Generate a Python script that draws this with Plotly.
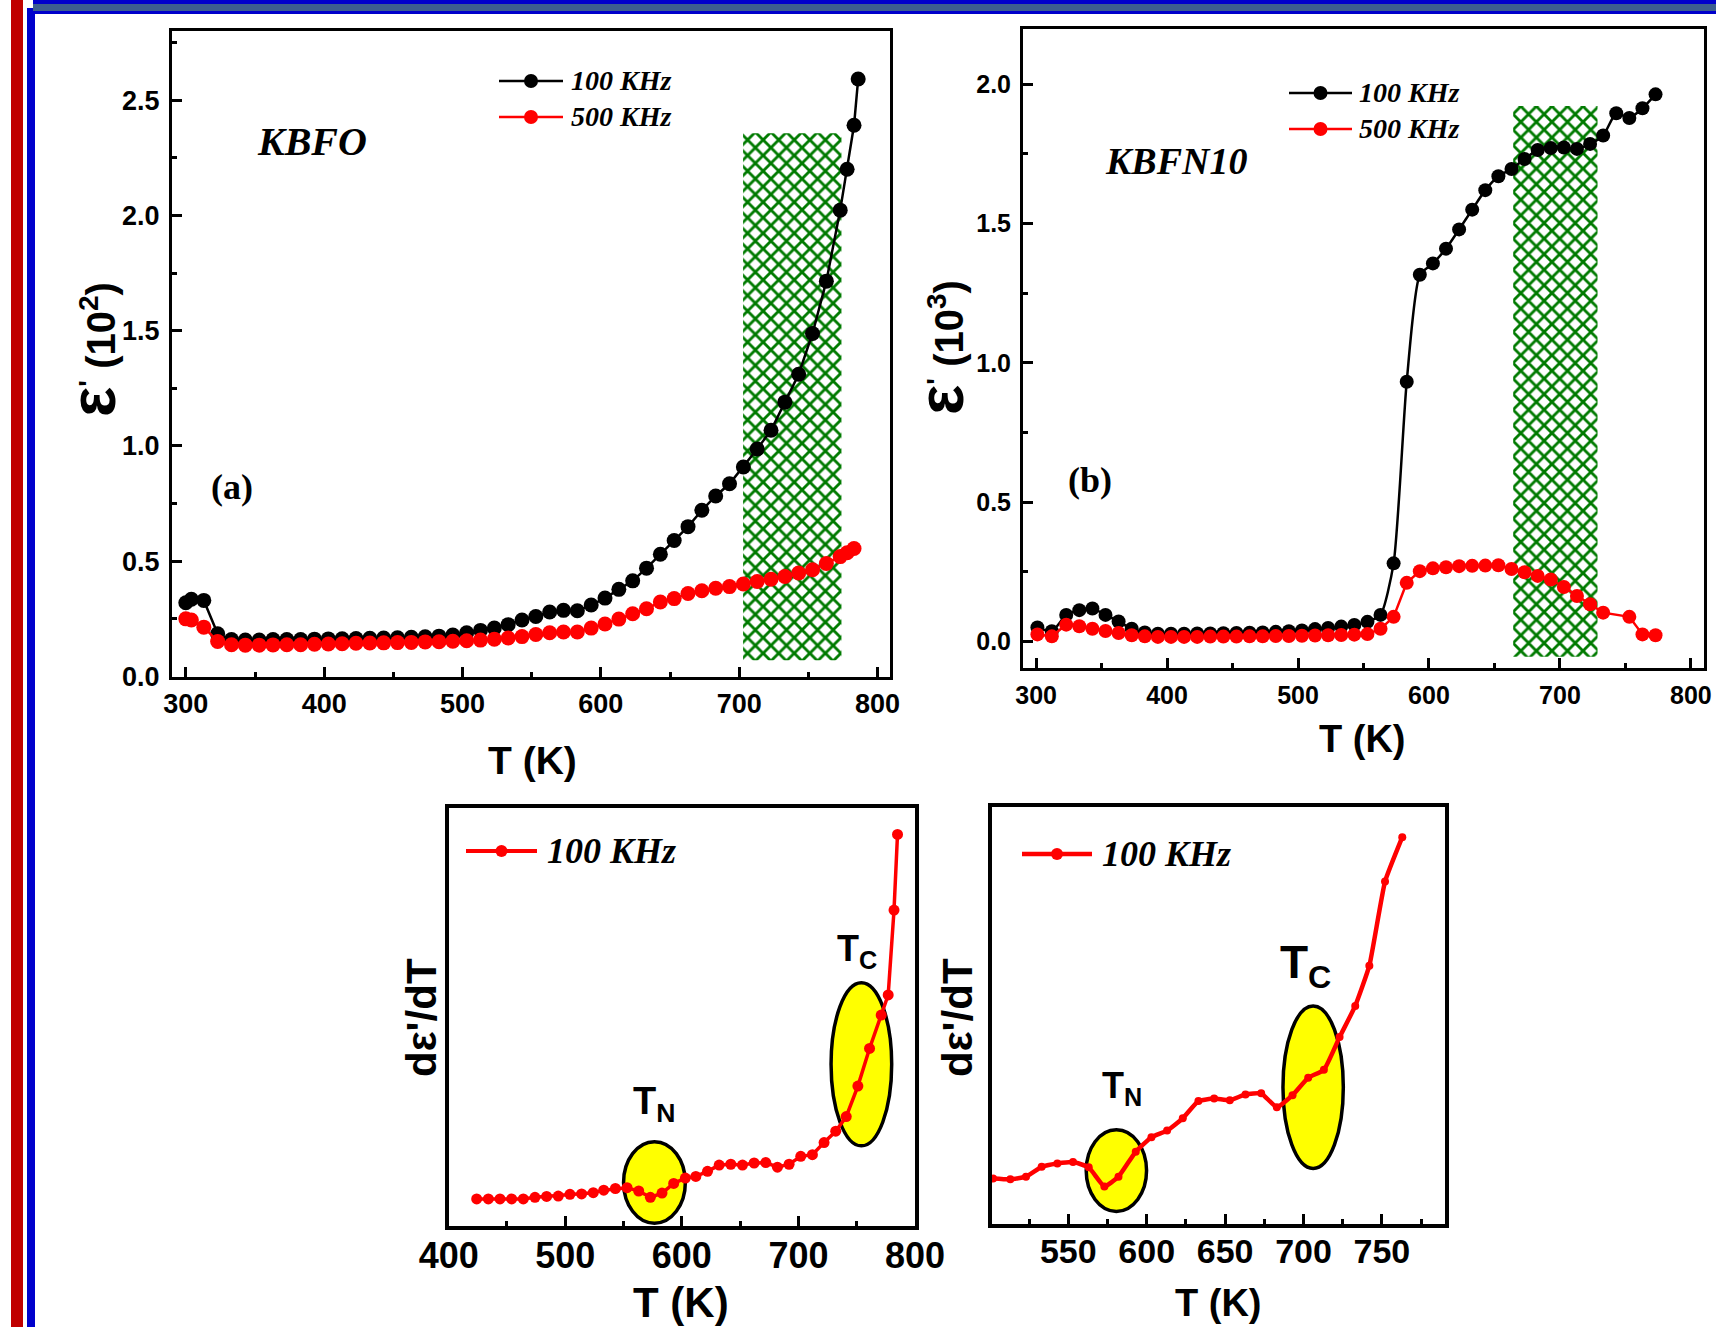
import plotly.graph_objects as go

W, H = 1716, 1327
SANS = "Liberation Sans, Arial, Helvetica, sans-serif"
SERIF = "Liberation Serif, Times New Roman, serif"

# ---------------- data ----------------
# (a) KBFO, epsilon' (10^2)
Ta_100 = [300, 304, 313, 323, 333, 343, 353, 363, 373, 383, 393, 403, 413, 423, 433, 443, 453, 463,
          473, 483, 493, 503, 513, 523, 533, 543, 553, 563, 573, 583, 593, 603, 613, 623, 633, 643,
          653, 663, 673, 683, 693, 703, 713, 723, 733, 743, 753, 763, 773, 778, 783, 786]
eps_a_100 = [0.32, 0.335, 0.33, 0.185, 0.16, 0.158, 0.158, 0.16, 0.16, 0.16, 0.162, 0.163, 0.164,
             0.165, 0.166, 0.167, 0.168, 0.17, 0.172, 0.175, 0.18, 0.19, 0.2, 0.21, 0.225, 0.245,
             0.26, 0.28, 0.287, 0.285, 0.31, 0.34, 0.378, 0.415, 0.47, 0.53, 0.59, 0.65, 0.721,
             0.783, 0.836, 0.909, 0.987, 1.068, 1.19, 1.311, 1.488, 1.715, 2.023, 2.20, 2.391, 2.592]
Ta_500 = [300, 304, 313, 323, 333, 343, 353, 363, 373, 383, 393, 403, 413, 423, 433, 443, 453, 463,
          473, 483, 493, 503, 513, 523, 533, 543, 553, 563, 573, 583, 593, 603, 613, 623, 633, 643,
          653, 663, 673, 683, 693, 703, 713, 723, 733, 743, 753, 763, 773, 778, 783]
eps_a_500 = [0.25, 0.245, 0.214, 0.152, 0.138, 0.136, 0.136, 0.137, 0.138, 0.138, 0.14, 0.141, 0.142,
             0.144, 0.145, 0.146, 0.147, 0.148, 0.15, 0.151, 0.153, 0.155, 0.158, 0.162, 0.167, 0.173,
             0.182, 0.19, 0.193, 0.193, 0.21, 0.228, 0.249, 0.272, 0.294, 0.323, 0.338, 0.36, 0.372,
             0.383, 0.39, 0.401, 0.412, 0.422, 0.434, 0.449, 0.463, 0.49, 0.52, 0.537, 0.555]

# (b) KBFN10, epsilon' (10^3)
Tb_100 = [301, 312, 323, 333, 343, 353, 363, 373, 383, 393, 403, 413, 423, 433, 443, 453, 463, 473,
          483, 493, 503, 513, 523, 533, 543, 553, 563, 573, 583, 593, 603, 613, 623, 633, 643, 653,
          663, 673, 683, 693, 703, 713, 723, 733, 743, 753, 763, 773]
eps_b_100 = [0.05, 0.036, 0.095, 0.112, 0.118, 0.095, 0.071, 0.045, 0.032, 0.027, 0.027, 0.027, 0.028,
             0.028, 0.029, 0.03, 0.031, 0.032, 0.034, 0.036, 0.039, 0.044, 0.048, 0.053, 0.059, 0.07,
             0.095, 0.28, 0.932, 1.316, 1.357, 1.41, 1.479, 1.55, 1.62, 1.67, 1.696, 1.732, 1.764,
             1.771, 1.773, 1.768, 1.786, 1.816, 1.896, 1.879, 1.914, 1.964]
Tb_500 = [301, 312, 323, 333, 343, 353, 363, 373, 383, 393, 403, 413, 423, 433, 443, 453, 463, 473,
          483, 493, 503, 513, 523, 533, 543, 553, 563, 573, 583, 593, 603, 613, 623, 633, 643, 653,
          663, 673, 683, 693, 703, 713, 723, 733, 753, 763, 773]
eps_b_500 = [0.025, 0.018, 0.06, 0.054, 0.045, 0.037, 0.03, 0.022, 0.018, 0.016, 0.016, 0.016, 0.016,
             0.017, 0.017, 0.017, 0.018, 0.018, 0.019, 0.019, 0.02, 0.021, 0.022, 0.023, 0.024, 0.026,
             0.045, 0.088, 0.21, 0.252, 0.262, 0.266, 0.27, 0.271, 0.272, 0.273, 0.26, 0.248, 0.235,
             0.222, 0.195, 0.163, 0.133, 0.103, 0.088, 0.025, 0.022]

# (c) d eps'/dT, KBFO, 100 KHz (arb. units)
Tc = [424, 434, 444, 454, 464, 474, 484, 494, 504, 514, 524, 533, 543, 553, 563, 573, 583, 593, 603,
      612, 622, 632, 642, 652, 662, 672, 682, 692, 702, 712, 722, 732, 741, 751, 761, 771, 777, 782, 785]
deriv_c = [6.4, 6.4, 6.4, 6.4, 6.4, 6.8, 7.0, 7.1, 7.5, 7.6, 7.9, 8.5, 8.9, 9.1, 8.3, 6.8, 7.8, 10.1,
           11.4, 11.8, 13.0, 14.5, 14.7, 14.5, 15.0, 15.1, 14.0, 14.7, 16.6, 17.0, 19.9, 22.6, 26.1,
           33.4, 42.4, 50.4, 55.2, 75.5, 93.6]

# (d) d eps'/dT, KBFN10, 100 KHz (arb. units)
Td = [502, 513, 523, 533, 543, 553, 563, 573, 582, 593, 603, 613, 623, 633, 643, 653, 663, 673, 683,
      693, 703, 713, 723, 733, 742, 752, 763]
deriv_d = [10.8, 10.6, 11.25, 13.6, 14.4, 14.75, 13.5, 8.9, 11.25, 17.25, 20.7, 22.3, 25.25, 29.4,
           30.0, 29.6, 31.0, 31.25, 27.9, 30.8, 35.0, 36.9, 44.75, 52.25, 61.9, 82.1, 92.75]

# highlighted regions (data coordinates)
HATCH_A = (702.8, 773.9, 0.071, 2.356)
HATCH_B = (664.3, 728.7, -0.055, 1.922)
ELL_C = {"N": (550, 603, 0.6, 20.1), "C": (728, 780, 19.1, 58.1)}
ELL_D = {"N": (561.4, 599.9, 2.9, 22.5), "C": (686.9, 725.4, 13.2, 52.25)}

RED = "#FF0000"
fig = go.Figure()


def hatch(h, xa, ya):
    x0, x1, y0, y1 = h
    fig.add_trace(go.Bar(
        x=[(x0 + x1) / 2], y=[y1 - y0], base=[y0], width=[x1 - x0], xaxis=xa, yaxis=ya,
        marker=dict(color="rgba(0,0,0,0)", line=dict(width=0),
                    pattern=dict(shape="x", fgcolor="#007A00", fgopacity=1, bgcolor="rgba(0,0,0,0)",
                                 size=11, solidity=0.45, fillmode="overlay")),
        showlegend=False, hoverinfo="skip"))


hatch(HATCH_A, "x", "y")
hatch(HATCH_B, "x2", "y2")

fig.add_trace(go.Scatter(x=Ta_100, y=eps_a_100, mode="lines+markers", name="100 KHz",
                         line=dict(color="black", width=2.5), marker=dict(size=15, color="black"),
                         xaxis="x", yaxis="y"))
fig.add_trace(go.Scatter(x=Ta_500, y=eps_a_500, mode="lines+markers", name="500 KHz",
                         line=dict(color=RED, width=2.5), marker=dict(size=15, color=RED),
                         xaxis="x", yaxis="y"))
fig.add_trace(go.Scatter(x=Tb_100, y=eps_b_100, mode="lines+markers", name="100 KHz",
                         line=dict(color="black", width=2.5, shape="spline", smoothing=0.6),
                         marker=dict(size=14, color="black"), xaxis="x2", yaxis="y2"))
fig.add_trace(go.Scatter(x=Tb_500, y=eps_b_500, mode="lines+markers", name="500 KHz",
                         line=dict(color=RED, width=2.5), marker=dict(size=14, color=RED),
                         xaxis="x2", yaxis="y2"))
fig.add_trace(go.Scatter(x=Tc, y=deriv_c, mode="lines+markers", name="100 KHz",
                         line=dict(color=RED, width=3.5), marker=dict(size=11, color=RED),
                         xaxis="x3", yaxis="y3"))
fig.add_trace(go.Scatter(x=Td, y=deriv_d, mode="lines+markers", name="100 KHz",
                         line=dict(color=RED, width=4.5, shape="spline", smoothing=0.4),
                         marker=dict(size=8, color=RED), xaxis="x4", yaxis="y4"))


def px(x):
    return x / W


def py(y):
    return 1 - y / H


def xaxis(dom, rng, dtick, mdtick, fs, anchor, lw=3, standoff=4):
    return dict(domain=[px(dom[0]), px(dom[1])], range=rng, anchor=anchor, showline=True, mirror=True,
                linewidth=lw, linecolor="black", ticks="inside", ticklen=10, tickwidth=2.5,
                tickcolor="black", dtick=dtick, tick0=0, automargin=False,
                minor=dict(dtick=mdtick, ticks="inside", ticklen=5, tickwidth=2.5, tickcolor="black"),
                tickfont=dict(family=SANS, size=fs, color="black", weight="bold"),
                showgrid=False, zeroline=False, ticklabelstandoff=standoff)


def yaxis(dom, rng, fs, anchor, labels=True, lw=3):
    d = dict(domain=[py(dom[1]), py(dom[0])], range=rng, anchor=anchor, showline=True, mirror=True,
             linewidth=lw, linecolor="black", showgrid=False, zeroline=False, automargin=False)
    if labels:
        d.update(ticks="inside", ticklen=10, tickwidth=2.5, tickcolor="black", dtick=0.5, tick0=0,
                 tickformat=".1f",
                 minor=dict(dtick=0.25, ticks="inside", ticklen=5, tickwidth=2.5, tickcolor="black"),
                 tickfont=dict(family=SANS, size=fs, color="black", weight="bold"),
                 ticklabelstandoff=4)
    else:
        d.update(showticklabels=False, ticks="")
    return d


fig.update_layout(
    template="none",
    width=W, height=H, margin=dict(l=0, r=0, t=0, b=0, pad=0, autoexpand=False), autosize=False,
    paper_bgcolor="white", plot_bgcolor="white", showlegend=False,
    xaxis=xaxis((172, 890), [290, 809], 100, 50, 27, "y", standoff=1),
    yaxis=yaxis((31, 676.5), [0, 2.8], 27, "x"),
    xaxis2=xaxis((1023, 1704), [290, 810], 100, 50, 25, "y2", standoff=3),
    yaxis2=yaxis((28.6, 667.8), [-0.095, 2.2], 25, "x2"),
    xaxis3=xaxis((448.7, 915), [400, 800], 100, 50, 36, "y3", lw=4, standoff=-5),
    yaxis3=yaxis((807.7, 1225.7), [0, 100], 36, "x3", labels=False, lw=4),
    xaxis4=xaxis((991.5, 1444.6), [501, 790], 50, 25, 34, "y4", lw=4, standoff=-5),
    yaxis4=yaxis((807, 1223.5), [0, 100], 34, "x4", labels=False, lw=4),
)

shapes = []
annots = []


# page decorations
def rect(x0, y0, x1, y1, color):
    shapes.append(dict(type="rect", xref="paper", yref="paper", x0=px(x0), x1=px(x1), y0=py(y1),
                       y1=py(y0), fillcolor=color, line=dict(width=0), layer="above"))


rect(11, 0, 23, H, "#C00000")
rect(27, 8, 35, H, "#0000CC")
rect(33, 0, W, 4, "#0000CC")
rect(33, 4, W, 11, "#3D5F8F")
rect(27, 11, W, 14, "#0000CC")


# manual legends (pixel positions)
def legend_entry(x0, x1, y, color, r, lw, tx, text, size):
    shapes.append(dict(type="line", xref="paper", yref="paper", x0=px(x0), x1=px(x1), y0=py(y), y1=py(y),
                       line=dict(color=color, width=lw), layer="above"))
    cx = (x0 + x1) / 2
    shapes.append(dict(type="circle", xref="paper", yref="paper", x0=px(cx - r), x1=px(cx + r),
                       y0=py(y + r), y1=py(y - r), fillcolor=color, line=dict(color=color, width=0),
                       layer="above"))
    annots.append(dict(xref="paper", yref="paper", x=px(tx), y=py(y), xanchor="left", yanchor="middle",
                       text=text, showarrow=False,
                       font=dict(family=SERIF, size=size, color="black", weight="bold", style="italic")))


legend_entry(499, 563, 81, "black", 7, 2.5, 569, "100 KHz", 28)
legend_entry(499, 563, 117, RED, 7, 2.5, 569, "500 KHz", 28)
legend_entry(1289, 1352, 93, "black", 7, 2.5, 1357, "100 KHz", 28)
legend_entry(1289, 1352, 129, RED, 7, 2.5, 1357, "500 KHz", 28)
legend_entry(466, 537, 851, RED, 6, 4, 545, "100 KHz", 36)
legend_entry(1022, 1092, 854, RED, 6, 4.5, 1100, "100 KHz", 36)


def text(x, y, t, size, family=SANS, style="normal", angle=0):
    annots.append(dict(xref="paper", yref="paper", x=px(x), y=py(y), xanchor="center", yanchor="middle",
                       text=t, showarrow=False, textangle=angle,
                       font=dict(family=family, size=size, color="black", weight="bold", style=style)))


text(312, 142, "KBFO", 40, SERIF, "italic")
text(1176, 161, "KBFN10", 38, SERIF, "italic")
text(232, 487, "(a)", 36, SERIF)
text(1090, 480, "(b)", 36, SERIF)

text(532, 760, "T (K)", 39)
text(1362, 739, "T (K)", 38)
text(681, 1302, "T (K)", 42)
text(1218, 1303, "T (K)", 38)

EPS = "<span style='font-size:64px'>ε</span><sup>'</sup> (10<sup>%s</sup>)"
text(93, 350, EPS % "2", 40, angle=-90)
text(941, 348, EPS % "3", 40, angle=-90)
text(421, 1018, "dε'/dT", 42, angle=-90)
text(957, 1018, "dε'/dT", 42, angle=-90)


# ellipses and transition labels
def ellipse(e, xr, yr):
    x0, x1, y0, y1 = e
    shapes.append(dict(type="circle", xref=xr, yref=yr, x0=x0, x1=x1, y0=y0, y1=y1,
                       fillcolor="#FFFF00", line=dict(color="black", width=3.5), layer="below"))


for e in ELL_C.values():
    ellipse(e, "x3", "y3")
for e in ELL_D.values():
    ellipse(e, "x4", "y4")


def dlabel(x, y, t, size, xr, yr):
    annots.append(dict(xref=xr, yref=yr, x=x, y=y, xanchor="center", yanchor="middle", text=t,
                       showarrow=False, font=dict(family=SANS, size=size, color="black", weight="bold")))


dlabel(576, 29.2, "T<sub>N</sub>", 38, "x3", "y3")
dlabel(750, 65.8, "T<sub>C</sub>", 36, "x3", "y3")
dlabel(584.5, 32.5, "T<sub>N</sub>", 36, "x4", "y4")
dlabel(701, 62, "T<sub>C</sub>", 46, "x4", "y4")

fig.update_layout(shapes=shapes, annotations=annots)
fig.write_html("out.html")
